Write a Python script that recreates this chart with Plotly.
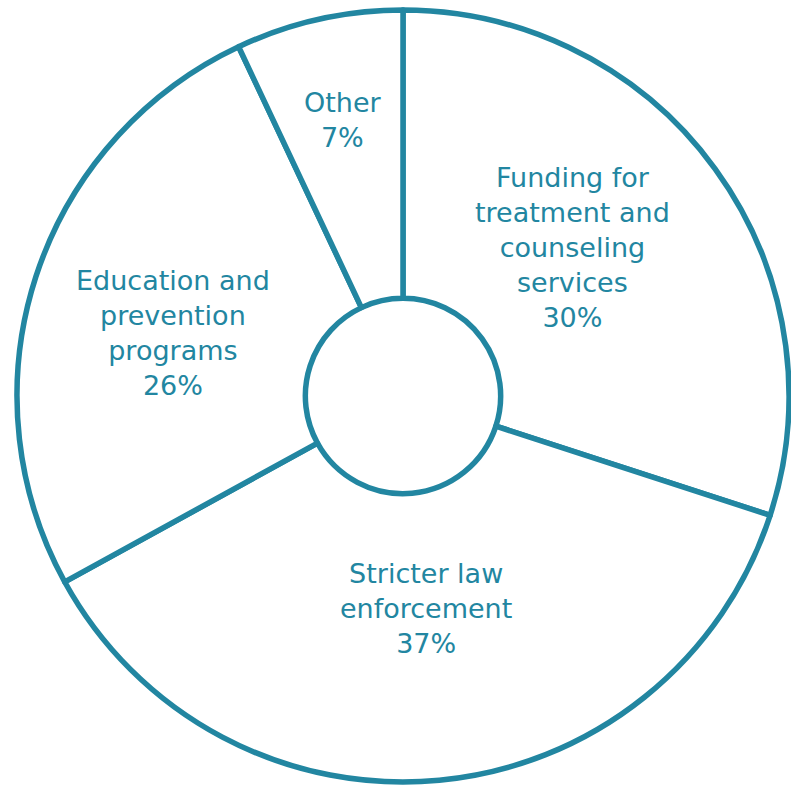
import plotly.graph_objects as go

categories = [
    "Funding for<br>treatment and<br>counseling<br>services",
    "Stricter law<br>enforcement",
    "Education and<br>prevention<br>programs",
    "Other",
]
values = [30, 37, 26, 7]

# label anchor positions (paper coordinates) for each slice's text
label_x = [0.720, 0.530, 0.202, 0.422]
label_y = [0.693, 0.225, 0.581, 0.858]

TEAL = "#2286a1"

fig = go.Figure(
    go.Pie(
        labels=categories,
        values=values,
        sort=False,
        direction="clockwise",
        rotation=0,
        hole=0.253,
        marker=dict(colors=["white"] * 4, line=dict(color=TEAL, width=5.5)),
        textinfo="none",
        showlegend=False,
        hoverinfo="skip",
    )
)

total = sum(values)
for lab, v, x, y in zip(categories, values, label_x, label_y):
    pct = round(100 * v / total)
    fig.add_annotation(
        x=x, y=y, xref="paper", yref="paper",
        text=f"{lab}<br>{pct}%",
        showarrow=False,
        xanchor="center", yanchor="middle",
        align="center",
        font=dict(family="DejaVu Sans", size=27, color=TEAL),
    )

fig.update_layout(
    width=791,
    height=787,
    margin=dict(l=17, r=2, t=10, b=5),
    paper_bgcolor="white",
    plot_bgcolor="white",
)

fig.write_html("out.html")
